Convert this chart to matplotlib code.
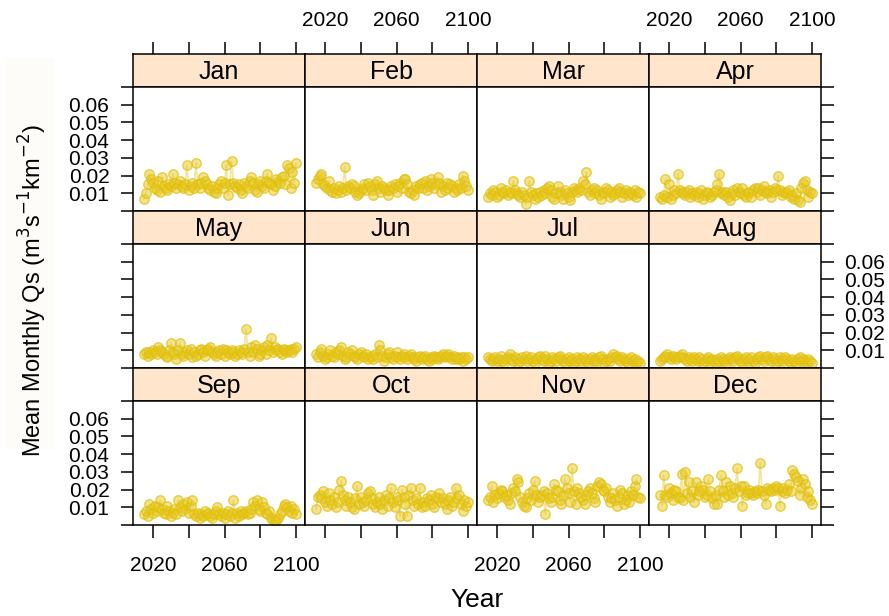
import matplotlib.pyplot as plt
from matplotlib.patches import Rectangle

plt.rcParams['font.family'] = ['Liberation Sans', 'DejaVu Sans']

# mean monthly specific discharge, one value per year
years = list(range(2015, 2101))
months = ['Jan', 'Feb', 'Mar', 'Apr', 'May', 'Jun',
          'Jul', 'Aug', 'Sep', 'Oct', 'Nov', 'Dec']

jan = [0.007, 0.010, 0.015, 0.021, 0.018, 0.016, 0.013, 0.012, 0.017, 0.011,
       0.019, 0.014, 0.013, 0.012, 0.015, 0.014, 0.021, 0.016, 0.013, 0.015,
       0.017, 0.014, 0.013, 0.015, 0.026, 0.012, 0.014, 0.016, 0.013, 0.027,
       0.015, 0.013, 0.016, 0.019, 0.017, 0.015, 0.013, 0.012, 0.014, 0.011,
       0.010, 0.013, 0.015, 0.017, 0.013, 0.016, 0.026, 0.009, 0.015, 0.028,
       0.016, 0.014, 0.013, 0.015, 0.012, 0.010, 0.016, 0.014, 0.013, 0.017,
       0.019, 0.016, 0.012, 0.011, 0.015, 0.017, 0.014, 0.013, 0.017, 0.021,
       0.016, 0.015, 0.012, 0.014, 0.018, 0.017, 0.016, 0.019, 0.020, 0.015,
       0.026, 0.024, 0.013, 0.022, 0.016, 0.027]
feb = [0.016, 0.018, 0.020, 0.021, 0.015, 0.014, 0.013, 0.017, 0.012, 0.011,
       0.013, 0.010, 0.012, 0.014, 0.011, 0.013, 0.025, 0.012, 0.014, 0.013,
       0.015, 0.014, 0.011, 0.009, 0.010, 0.012, 0.013, 0.015, 0.012, 0.016,
       0.014, 0.012, 0.009, 0.015, 0.017, 0.013, 0.011, 0.014, 0.013, 0.012,
       0.009, 0.012, 0.014, 0.013, 0.015, 0.011, 0.014, 0.016, 0.013, 0.018,
       0.018, 0.015, 0.011, 0.010, 0.012, 0.009, 0.014, 0.013, 0.015, 0.016,
       0.013, 0.017, 0.012, 0.014, 0.018, 0.016, 0.013, 0.015, 0.019, 0.016,
       0.011, 0.014, 0.012, 0.016, 0.013, 0.015, 0.014, 0.011, 0.013, 0.012,
       0.015, 0.013, 0.020, 0.017, 0.014, 0.012]
mar = [0.008, 0.010, 0.009, 0.012, 0.011, 0.008, 0.009, 0.013, 0.011, 0.010,
       0.012, 0.009, 0.011, 0.010, 0.017, 0.012, 0.010, 0.009, 0.008, 0.011,
       0.009, 0.004, 0.008, 0.017, 0.011, 0.009, 0.007, 0.010, 0.008, 0.011,
       0.009, 0.012, 0.010, 0.013, 0.014, 0.012, 0.008, 0.007, 0.010, 0.014,
       0.011, 0.009, 0.007, 0.012, 0.010, 0.008, 0.006, 0.011, 0.013, 0.012,
       0.011, 0.013, 0.012, 0.017, 0.015, 0.022, 0.011, 0.009, 0.012, 0.013,
       0.010, 0.012, 0.009, 0.007, 0.011, 0.010, 0.013, 0.012, 0.008, 0.011,
       0.009, 0.010, 0.012, 0.013, 0.011, 0.008, 0.010, 0.012, 0.009, 0.011,
       0.010, 0.009, 0.012, 0.008, 0.011, 0.010]
apr = [0.008, 0.007, 0.009, 0.018, 0.008, 0.015, 0.007, 0.009, 0.012, 0.010,
       0.021, 0.012, 0.011, 0.010, 0.009, 0.011, 0.012, 0.008, 0.010, 0.009,
       0.011, 0.008, 0.010, 0.012, 0.007, 0.009, 0.011, 0.010, 0.008, 0.009,
       0.011, 0.012, 0.015, 0.021, 0.010, 0.011, 0.009, 0.011, 0.008, 0.006,
       0.010, 0.012, 0.009, 0.013, 0.011, 0.010, 0.013, 0.009, 0.008, 0.011,
       0.010, 0.008, 0.012, 0.013, 0.011, 0.013, 0.009, 0.012, 0.014, 0.011,
       0.010, 0.012, 0.008, 0.011, 0.013, 0.012, 0.020, 0.012, 0.009, 0.011,
       0.010, 0.011, 0.012, 0.008, 0.009, 0.007, 0.010, 0.006, 0.005, 0.013,
       0.016, 0.017, 0.012, 0.008, 0.011, 0.010]
may = [0.008, 0.009, 0.007, 0.009, 0.008, 0.010, 0.009, 0.008, 0.012, 0.010,
       0.009, 0.008, 0.007, 0.006, 0.010, 0.014, 0.009, 0.008, 0.005, 0.010,
       0.014, 0.008, 0.007, 0.009, 0.010, 0.008, 0.011, 0.006, 0.009, 0.007,
       0.008, 0.010, 0.011, 0.009, 0.007, 0.010, 0.011, 0.012, 0.009, 0.008,
       0.007, 0.009, 0.010, 0.008, 0.011, 0.007, 0.010, 0.009, 0.008, 0.010,
       0.009, 0.007, 0.008, 0.010, 0.009, 0.008, 0.011, 0.022, 0.009, 0.007,
       0.012, 0.009, 0.013, 0.011, 0.007, 0.008, 0.010, 0.012, 0.008, 0.013,
       0.010, 0.017, 0.009, 0.012, 0.010, 0.011, 0.009, 0.008, 0.011, 0.010,
       0.009, 0.010, 0.011, 0.009, 0.011, 0.012]
jun = [0.008, 0.006, 0.009, 0.011, 0.007, 0.005, 0.006, 0.008, 0.010, 0.007,
       0.006, 0.009, 0.008, 0.010, 0.012, 0.007, 0.005, 0.006, 0.009, 0.008,
       0.010, 0.007, 0.006, 0.005, 0.008, 0.009, 0.007, 0.006, 0.008, 0.005,
       0.006, 0.007, 0.005, 0.008, 0.006, 0.013, 0.010, 0.007, 0.004, 0.006,
       0.008, 0.009, 0.006, 0.005, 0.007, 0.009, 0.006, 0.005, 0.007, 0.008,
       0.006, 0.005, 0.007, 0.008, 0.006, 0.005, 0.004, 0.006, 0.007, 0.005,
       0.006, 0.007, 0.005, 0.004, 0.006, 0.005, 0.007, 0.006, 0.005, 0.006,
       0.007, 0.008, 0.006, 0.007, 0.008, 0.006, 0.005, 0.007, 0.005, 0.006,
       0.005, 0.006, 0.004, 0.006, 0.005, 0.006]
jul = [0.006, 0.005, 0.004, 0.005, 0.006, 0.004, 0.005, 0.007, 0.004, 0.003,
       0.005, 0.006, 0.008, 0.005, 0.004, 0.006, 0.005, 0.003, 0.004, 0.006,
       0.005, 0.007, 0.004, 0.005, 0.006, 0.004, 0.003, 0.005, 0.006, 0.007,
       0.005, 0.004, 0.007, 0.005, 0.003, 0.004, 0.006, 0.005, 0.004, 0.006,
       0.007, 0.005, 0.004, 0.003, 0.005, 0.006, 0.004, 0.005, 0.003, 0.004,
       0.006, 0.005, 0.004, 0.006, 0.005, 0.004, 0.003, 0.005, 0.006, 0.004,
       0.005, 0.004, 0.006, 0.007, 0.005, 0.003, 0.004, 0.005, 0.004, 0.006,
       0.008, 0.006, 0.007, 0.005, 0.004, 0.006, 0.005, 0.004, 0.003, 0.005,
       0.006, 0.004, 0.005, 0.003, 0.004, 0.003]
aug = [0.004, 0.005, 0.006, 0.007, 0.008, 0.006, 0.005, 0.007, 0.006, 0.005,
       0.006, 0.007, 0.008, 0.006, 0.005, 0.004, 0.006, 0.005, 0.004, 0.006,
       0.005, 0.004, 0.006, 0.005, 0.003, 0.004, 0.005, 0.006, 0.004, 0.005,
       0.004, 0.003, 0.005, 0.004, 0.006, 0.005, 0.004, 0.003, 0.005, 0.006,
       0.005, 0.004, 0.006, 0.007, 0.005, 0.004, 0.003, 0.005, 0.006, 0.004,
       0.005, 0.006, 0.004, 0.003, 0.005, 0.006, 0.007, 0.005, 0.004, 0.006,
       0.007, 0.005, 0.004, 0.006, 0.005, 0.003, 0.004, 0.006, 0.005, 0.004,
       0.006, 0.005, 0.004, 0.003, 0.005, 0.004, 0.003, 0.005, 0.006, 0.004,
       0.005, 0.004, 0.003, 0.005, 0.004, 0.003]
sep = [0.006, 0.008, 0.005, 0.012, 0.009, 0.007, 0.011, 0.008, 0.010, 0.014,
       0.009, 0.007, 0.006, 0.011, 0.008, 0.005, 0.007, 0.009, 0.006, 0.014,
       0.010, 0.008, 0.012, 0.009, 0.013, 0.007, 0.011, 0.014, 0.006, 0.005,
       0.007, 0.004, 0.006, 0.005, 0.008, 0.006, 0.007, 0.005, 0.004, 0.006,
       0.008, 0.010, 0.006, 0.005, 0.007, 0.004, 0.006, 0.008, 0.005, 0.007,
       0.014, 0.004, 0.007, 0.005, 0.008, 0.006, 0.007, 0.008, 0.006, 0.007,
       0.009, 0.013, 0.011, 0.014, 0.009, 0.008, 0.013, 0.010, 0.007, 0.006,
       0.008, 0.004, 0.003, 0.002, 0.003, 0.004, 0.006, 0.008, 0.011, 0.012,
       0.010, 0.008, 0.011, 0.007, 0.009, 0.006]
oct_ = [0.009, 0.016, 0.017, 0.015, 0.019, 0.013, 0.011, 0.018, 0.014, 0.012,
        0.016, 0.010, 0.013, 0.020, 0.025, 0.017, 0.014, 0.011, 0.016, 0.013,
        0.010, 0.009, 0.015, 0.022, 0.012, 0.016, 0.013, 0.011, 0.014, 0.018,
        0.019, 0.015, 0.012, 0.010, 0.013, 0.016, 0.012, 0.009, 0.014, 0.017,
        0.011, 0.015, 0.021, 0.013, 0.010, 0.016, 0.014, 0.005, 0.020, 0.016,
        0.012, 0.005, 0.017, 0.021, 0.014, 0.011, 0.015, 0.012, 0.021, 0.010,
        0.013, 0.011, 0.015, 0.014, 0.017, 0.012, 0.010, 0.016, 0.015, 0.018,
        0.013, 0.015, 0.012, 0.009, 0.014, 0.016, 0.011, 0.013, 0.021, 0.015,
        0.017, 0.012, 0.008, 0.014, 0.011, 0.013]
nov = [0.014, 0.016, 0.022, 0.013, 0.017, 0.015, 0.018, 0.020, 0.019, 0.016,
       0.017, 0.014, 0.012, 0.018, 0.021, 0.019, 0.026, 0.024, 0.016, 0.013,
       0.011, 0.010, 0.015, 0.018, 0.014, 0.020, 0.025, 0.017, 0.013, 0.016,
       0.017, 0.019, 0.006, 0.018, 0.015, 0.013, 0.016, 0.023, 0.020, 0.019,
       0.014, 0.012, 0.017, 0.026, 0.021, 0.018, 0.013, 0.032, 0.019, 0.012,
       0.021, 0.018, 0.016, 0.014, 0.012, 0.017, 0.019, 0.021, 0.018, 0.015,
       0.013, 0.022, 0.024, 0.023, 0.020, 0.019, 0.021, 0.016, 0.013, 0.015,
       0.018, 0.014, 0.011, 0.016, 0.020, 0.018, 0.012, 0.014, 0.017, 0.013,
       0.019, 0.017, 0.022, 0.026, 0.016, 0.015]
dec = [0.017, 0.011, 0.028, 0.017, 0.016, 0.021, 0.018, 0.014, 0.020, 0.019,
       0.016, 0.015, 0.029, 0.014, 0.030, 0.018, 0.024, 0.016, 0.019, 0.013,
       0.024, 0.017, 0.019, 0.022, 0.020, 0.016, 0.017, 0.026, 0.019, 0.015,
       0.012, 0.017, 0.012, 0.020, 0.028, 0.019, 0.016, 0.024, 0.017, 0.022,
       0.018, 0.016, 0.021, 0.032, 0.019, 0.022, 0.011, 0.022, 0.017, 0.018,
       0.020, 0.018, 0.017, 0.019, 0.018, 0.020, 0.035, 0.019, 0.017, 0.012,
       0.021, 0.020, 0.019, 0.021, 0.020, 0.022, 0.021, 0.011, 0.019, 0.021,
       0.018, 0.020, 0.023, 0.019, 0.031, 0.029, 0.027, 0.025, 0.017, 0.021,
       0.026, 0.023, 0.016, 0.019, 0.014, 0.012]

qs = [jan, feb, mar, apr, may, jun, jul, aug, sep, oct_, nov, dec]

x_ticks = [2020, 2040, 2060, 2080, 2100]
x_labels = ['2020', '', '2060', '', '2100']
y_ticks = [0.0, 0.01, 0.02, 0.03, 0.04, 0.05, 0.06, 0.07]
y_labels = ['', '0.01', '0.02', '0.03', '0.04', '0.05', '0.06', '']

W, H = 889, 616
fig = plt.figure(figsize=(W / 100, H / 100), dpi=100)


def fbox(x, y, w, h):
    # pixel box (from top-left) -> figure fraction
    return [x / W, 1 - (y + h) / H, w / W, h / H]


col_x = [133, 305, 477, 649]
pw, ph, sh = 172, 124, 33
top0, row_step = 54, 157
xlim = (2008.8, 2105.0)
ylim = (0.0, 0.07)

pt_face = (0.91, 0.79, 0.12, 0.5)
pt_edge = (0.88, 0.75, 0.06, 0.7)
ln_col = (0.90, 0.78, 0.10, 0.45)
tick_kw = dict(direction='out', length=9, width=1.1, labelsize=15)

for i, m in enumerate(months):
    r, c = divmod(i, 4)
    ys = top0 + r * row_step

    # strip with month name
    sax = fig.add_axes(fbox(col_x[c], ys, pw, sh))
    sax.set_facecolor('#FFE5CC')
    sax.set_xlim(xlim)
    sax.set_yticks([])
    sax.set_xticks(x_ticks)
    sax.set_xticklabels(x_labels)
    sax.tick_params(axis='x', pad=8, **tick_kw)
    sax.tick_params(axis='x', bottom=False, labelbottom=False,
                    top=(r == 0), labeltop=(r == 0 and c in (1, 3)))
    sax.text(0.5, 0.44, m, transform=sax.transAxes, ha='center', va='center',
             fontsize=18)
    for s in sax.spines.values():
        s.set_linewidth(1.1)

    ax = fig.add_axes(fbox(col_x[c], ys + sh, pw, ph))
    ax.plot(years, qs[i], color=ln_col, lw=1.2, marker='o', ms=6.8,
            mfc=pt_face, mec=pt_edge, mew=1.0)
    ax.set_xlim(xlim)
    ax.set_ylim(ylim)
    ax.set_xticks(x_ticks)
    ax.set_xticklabels(x_labels)
    ax.set_yticks(y_ticks)
    ax.set_yticklabels(y_labels)
    ax.tick_params(axis='x', pad=13, **tick_kw)
    ax.tick_params(axis='y', pad=8, **tick_kw)
    ax.tick_params(axis='x', top=False, labeltop=False,
                   bottom=(r == 2), labelbottom=(r == 2 and c in (0, 2)))
    ax.tick_params(axis='y', left=(c == 0), labelleft=(c == 0 and r != 1),
                   right=(c == 3), labelright=(c == 3 and r == 1))
    for s in ax.spines.values():
        s.set_linewidth(1.1)

# faint panel behind the y label
fig.patches.append(Rectangle((5 / W, 1 - 448 / H), 48 / W, 390 / H,
                             transform=fig.transFigure, color='#fdfcf8',
                             zorder=0))
fig.text(33 / W, 1 - 290 / H,
         'Mean Monthly Qs (m$^{3}$s$^{-1}$km$^{-2}$)',
         rotation=90, ha='center', va='center', fontsize=17)
fig.text(477 / W, 1 - 600 / H, 'Year', ha='center', va='center', fontsize=19)

fig.savefig('out.png', dpi=100)
